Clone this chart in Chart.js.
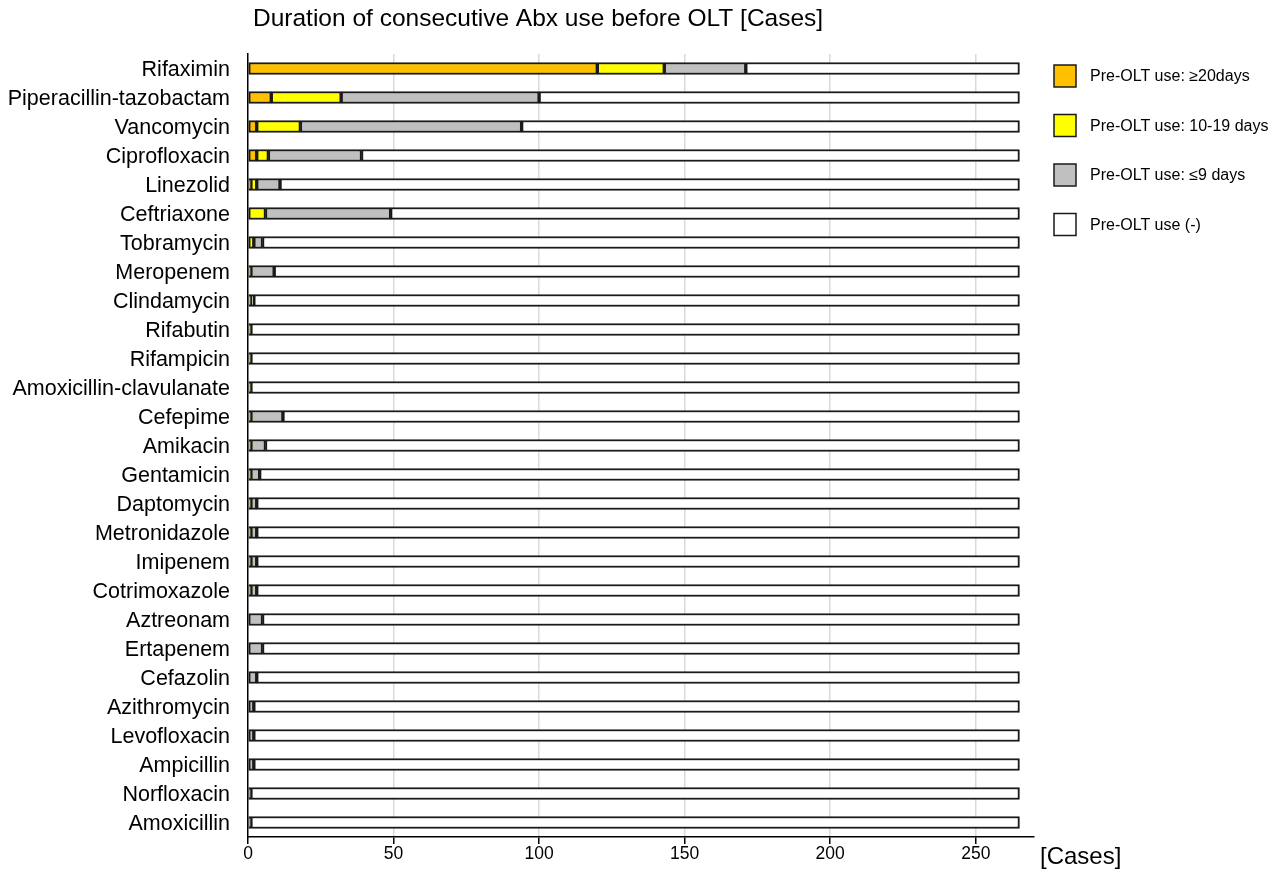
<!DOCTYPE html>
<html>
<head>
<meta charset="utf-8">
<script src="https://cdn.jsdelivr.net/npm/chart.js@4.4.0/dist/chart.umd.min.js"></script>
<style>
  html, body { margin: 0; padding: 0; background: #fff; }
  #wrap { position: relative; width: 1288px; height: 882px; }
</style>
</head>
<body>
<div id="wrap"><canvas id="chart" width="1288" height="882"></canvas></div>
<script>
// Antibiotics, top to bottom
const drugs = [
  'Rifaximin', 'Piperacillin-tazobactam', 'Vancomycin', 'Ciprofloxacin', 'Linezolid',
  'Ceftriaxone', 'Tobramycin', 'Meropenem', 'Clindamycin', 'Rifabutin', 'Rifampicin',
  'Amoxicillin-clavulanate', 'Cefepime', 'Amikacin', 'Gentamicin', 'Daptomycin',
  'Metronidazole', 'Imipenem', 'Cotrimoxazole', 'Aztreonam', 'Ertapenem', 'Cefazolin',
  'Azithromycin', 'Levofloxacin', 'Ampicillin', 'Norfloxacin', 'Amoxicillin'
];
const totalCases = 265;

// cases per duration group
const over20 = [120, 8, 3, 3, 1, 0, 0, 0, 0, 0, 0, 0, 0, 0, 0, 0, 0, 0, 0, 0, 0, 0, 0, 0, 0, 0, 0];
const days10to19 = [23, 24, 15, 4, 2, 6, 2, 1, 1, 1, 1, 1, 1, 1, 1, 1, 1, 1, 1, 0, 0, 0, 0, 0, 0, 0, 0];
const upTo9 = [28, 68, 76, 32, 8, 43, 3, 8, 1, 0, 0, 0, 11, 5, 3, 2, 2, 2, 2, 5, 5, 3, 2, 2, 2, 1, 1];
const noUse = drugs.map((d, i) => totalCases - over20[i] - days10to19[i] - upTo9[i]);

const xTicks = [0, 50, 100, 150, 200, 250];

const FONT = '"Liberation Sans", Arial, sans-serif';
const EDGE = '#1a1a1a';

function seg(label, values, color) {
  return {
    label,
    data: values.map(v => (v > 0 ? v : null)),
    backgroundColor: color,
    borderColor: EDGE,
    borderWidth: 2,
    borderSkipped: false,
    barThickness: 12,
  };
}

// title, axis unit and legend
const extras = {
  id: 'extras',
  afterDraw(chart) {
    const ctx = chart.ctx;
    const area = chart.chartArea;
    ctx.save();
    ctx.fillStyle = '#000';
    ctx.textBaseline = 'middle';
    ctx.textAlign = 'left';

    ctx.font = '24.5px ' + FONT;
    ctx.fillText('Duration of consecutive Abx use before OLT [Cases]', 253, 19);
    ctx.font = '24px ' + FONT;
    ctx.fillText('[Cases]', area.right + 6, 857);

    ctx.font = '16px ' + FONT;
    chart.data.datasets.forEach((ds, i) => {
      const y = 76 + i * 49.5;
      ctx.fillStyle = ds.backgroundColor;
      ctx.fillRect(1054, y - 11, 22, 22);
      ctx.strokeStyle = EDGE;
      ctx.lineWidth = 1.5;
      ctx.strokeRect(1054, y - 11, 22, 22);
      ctx.fillStyle = '#000';
      ctx.fillText(ds.label, 1090, y + 1);
    });
    ctx.restore();
  }
};

new Chart(document.getElementById('chart'), {
  type: 'bar',
  data: {
    labels: drugs,
    datasets: [
      seg('Pre-OLT use: \u226520days', over20, '#ffc000'),
      seg('Pre-OLT use: 10-19 days', days10to19, '#ffff00'),
      seg('Pre-OLT use: \u22649 days', upTo9, '#c0c0c0'),
      seg('Pre-OLT use (-)', noUse, '#ffffff'),
    ],
  },
  options: {
    indexAxis: 'y',
    responsive: false,
    animation: false,
    layout: { padding: { top: 54, right: 254, left: 0, bottom: 0 } },
    plugins: {
      legend: { display: false },
      tooltip: { enabled: false },
    },
    scales: {
      x: {
        stacked: true,
        min: 0,
        max: 270,
        afterBuildTicks(scale) {
          scale.ticks = xTicks.map(v => ({ value: v }));
        },
        afterFit(scale) { scale.height = 45; },
        grid: {
          color: ctx => (ctx.tick && ctx.tick.value === 0 ? 'rgba(0,0,0,0)' : '#dadada'),
          lineWidth: 1.5,
          tickColor: '#000',
          tickLength: 7,
          tickWidth: 1.5,
        },
        border: { display: true, color: '#000', width: 1.5 },
        ticks: { color: '#000', font: { family: FONT, size: 17.5 }, padding: 0, maxRotation: 0 },
      },
      y: {
        stacked: true,
        afterFit(scale) { scale.width = 248; },
        grid: { display: false, drawTicks: false },
        border: { display: true, color: '#000', width: 1.5 },
        ticks: { color: '#000', font: { family: FONT, size: 21.5 }, padding: 18, labelOffset: 1.5, autoSkip: false },
      },
    },
  },
  plugins: [extras],
});
</script>
</body>
</html>
